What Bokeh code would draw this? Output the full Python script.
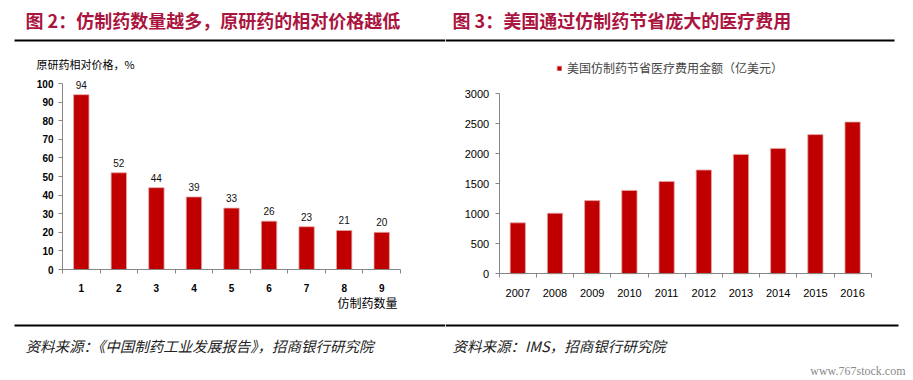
from bokeh.plotting import figure
from bokeh.models import (ColumnDataSource, Range1d, FixedTicker, Label, LabelSet,
                          BoxAnnotation, Legend, LegendItem)
from bokeh.layouts import row
from bokeh.core.properties import value
from bokeh.embed import file_html
from bokeh.resources import INLINE

# ---------------- data ----------------
left_categories = ["1", "2", "3", "4", "5", "6", "7", "8", "9"]
left_values = [94, 52, 44, 39, 33, 26, 23, 21, 20]
left_y_ticks = [0, 10, 20, 30, 40, 50, 60, 70, 80, 90, 100]

right_categories = ["2007", "2008", "2009", "2010", "2011", "2012", "2013", "2014", "2015", "2016"]
right_values = [850, 1010, 1220, 1390, 1540, 1730, 1990, 2090, 2320, 2530]
right_y_ticks = [0, 500, 1000, 1500, 2000, 2500, 3000]

title_left = "图 2：仿制药数量越多，原研药的相对价格越低"
title_right = "图 3：美国通过仿制药节省庞大的医疗费用"
ylabel_left = "原研药相对价格，%"
xlabel_left = "仿制药数量"
legend_right = "美国仿制药节省医疗费用金额（亿美元）"
source_left = "资料来源：《中国制药工业发展报告》，招商银行研究院"
source_right = "资料来源：IMS，招商银行研究院"
watermark = "www.767stock.com"

# ---------------- style / layout (page pixels) ----------------
TOP, BOTTOM = 0, 380
H = BOTTOM - TOP
BAR = "#C00000"
BAR_EDGE = "#E3A9A9"
AXIS = "#868686"
TITLE_C = "#AA1540"
CJK = "Noto Sans CJK SC"
NUM = "Liberation Sans"


def sy(py):
    return BOTTOM - py


def make_ranges(fx0, fx1, ax_left, ax_right, n, ax_bottom, ax_top, vmax):
    # whole canvas is the frame; axes are drawn at fixed locations
    ux = n / (ax_right - ax_left)
    uy = vmax / (ax_bottom - ax_top)
    xr = Range1d(0.5 + (fx0 - ax_left) * ux, 0.5 + (fx1 - ax_left) * ux)
    yr = Range1d(-(BOTTOM - ax_bottom) * uy, vmax + (ax_top - TOP) * uy)
    return xr, yr


def hline(p, fx, x0, x1, py, thick=2):
    p.add_layout(BoxAnnotation(left=x0 - fx, right=x1 - fx,
                               top=sy(py - thick / 2), bottom=sy(py + thick / 2),
                               left_units="screen", right_units="screen",
                               top_units="screen", bottom_units="screen",
                               fill_color="black", fill_alpha=1, line_color=None,
                               line_alpha=0))


def text(p, fx, px, py, t, size, color="black", style="normal", font=CJK, align="left"):
    p.add_layout(Label(x=px - fx, y=sy(py), x_units="screen", y_units="screen",
                       text=t, text_font=font, text_font_size=size,
                       text_font_style=style, text_color=color,
                       text_align=align, text_baseline="middle"))


def base_fig(width, xr, yr, n, vmax, ticks, xlabels, lab_size, lab_style):
    p = figure(width=width, height=H, output_backend="svg", toolbar_location=None,
               title=None, x_range=xr, y_range=yr, min_border=0,
               min_border_left=0, min_border_right=0, min_border_top=0, min_border_bottom=0)
    p.outline_line_color = None
    p.xgrid.visible = False
    p.ygrid.visible = False
    p.background_fill_color = "white"
    p.border_fill_color = "white"
    pos = list(range(1, n + 1))
    xa, ya = p.xaxis[0], p.yaxis[0]
    xa.fixed_location = 0
    xa.bounds = (0.5, n + 0.5)
    ya.fixed_location = 0.5
    ya.bounds = (0, vmax)
    for ax in (xa, ya):
        ax.axis_line_color = AXIS
        ax.major_tick_line_color = AXIS
        ax.minor_tick_line_color = AXIS
        ax.major_label_text_color = "black"
        ax.major_label_text_font = NUM
        ax.major_label_text_font_size = lab_size
        ax.major_label_text_font_style = lab_style
    ya.ticker = FixedTicker(ticks=ticks, minor_ticks=[])
    ya.major_tick_out = 4
    ya.major_tick_in = 0
    ya.major_label_standoff = 5
    xa.ticker = FixedTicker(ticks=pos, minor_ticks=[i + 0.5 for i in range(0, n + 1)])
    xa.major_label_overrides = {i: c for i, c in zip(pos, xlabels)}
    xa.major_tick_out = 0
    xa.major_tick_in = 0
    xa.minor_tick_out = 4
    xa.minor_tick_in = 0
    xa.major_label_standoff = 10
    return p, pos


# ---------------- left chart ----------------
FX1, FX1_END = 0, 445
n1 = len(left_categories)
xr1, yr1 = make_ranges(FX1, FX1_END, 62, 400, n1, 269, 83, 100)
p1, pos1 = base_fig(FX1_END - FX1, xr1, yr1, n1, 100, left_y_ticks, left_categories, "10px", "bold")
src1 = ColumnDataSource(dict(x=pos1, y=left_values, label=[str(v) for v in left_values]))
p1.vbar(x="x", top="y", width=0.41, source=src1, fill_color=BAR, line_color=BAR_EDGE, line_width=0.8)
p1.add_layout(LabelSet(x="x", y="y", text="label", source=src1, y_offset=6,
                       text_align="center", text_baseline="alphabetic",
                       text_font=value(NUM), text_font_size="10px", text_color="#111"))

text(p1, FX1, 25, 19.5, title_left, "18px", TITLE_C, "bold")
hline(p1, FX1, 14, FX1_END, 40)
text(p1, FX1, 36, 63, ylabel_left, "11px")
text(p1, FX1, 397, 302, xlabel_left, "12px", align="right")
hline(p1, FX1, 14, FX1_END, 325)
text(p1, FX1, 25, 345, source_left, "14.5px", "#222", "italic")

# ---------------- right chart ----------------
FX2, FX2_END = 445, 913
n2 = len(right_categories)
xr2, yr2 = make_ranges(FX2, FX2_END, 498.7, 870.7, n2, 273.3, 93.3, 3000)
p2, pos2 = base_fig(FX2_END - FX2, xr2, yr2, n2, 3000, right_y_ticks, right_categories, "11px", "normal")
src2 = ColumnDataSource(dict(x=pos2, y=right_values))
r2 = p2.vbar(x="x", top="y", width=0.41, source=src2, fill_color=BAR, line_color=BAR_EDGE, line_width=0.8)
p2.yaxis.major_label_standoff = 6
p2.xaxis.major_label_standoff = 11

legend = Legend(items=[LegendItem(label=legend_right, renderers=[r2])],
                location=(111, sy(76)), padding=0, margin=0, spacing=0,
                glyph_width=6, glyph_height=6, label_height=12, label_standoff=5,
                label_text_font=CJK, label_text_font_size="12px",
                border_line_color=None, background_fill_alpha=0)
p2.add_layout(legend)

text(p2, FX2, 452, 19.5, title_right, "18px", TITLE_C, "bold")
hline(p2, FX2, FX2, 894, 40)
hline(p2, FX2, FX2, 898, 325)
text(p2, FX2, 452, 345, source_right, "14.5px", "#222", "italic")
text(p2, FX2, 905, 370, watermark, "12px", "#8a8a8a", font="Liberation Sans Narrow", align="right")

layout = row(p1, p2)
open("out.html", "w").write(file_html(layout, INLINE))
